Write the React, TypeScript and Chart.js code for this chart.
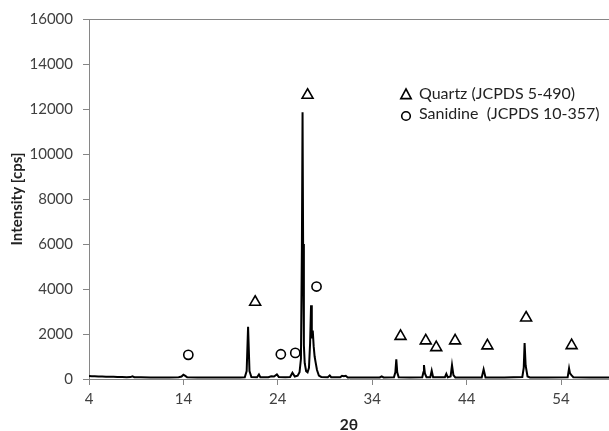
import React, { useEffect, useRef } from "react";
import { Chart, registerables } from "chart.js";

Chart.register(...registerables);

// ---- data ----
const twoTheta = [
  4.0, 4.3, 4.6, 5.0, 5.4, 5.8, 6.2, 6.6, 7.0, 7.5, 8.0, 8.4, 8.6, 8.8, 9.5, 10.5, 11.5, 12.5, 13.5, 13.8,
  14.0, 14.2, 14.4, 15.5, 17.0, 18.5, 20.0, 20.5, 20.7, 20.85, 21.0, 21.2, 21.8, 22.0, 22.15, 23.0, 23.3, 23.6,
  23.9, 24.1, 24.8, 25.3, 25.55, 25.8, 26.1, 26.3, 26.45, 26.55, 26.62, 26.68, 26.76, 26.85, 27.0, 27.15,
  27.3, 27.42, 27.52, 27.6, 27.7, 27.8, 27.9, 28.0, 28.15, 28.35, 28.6, 29.3, 29.5, 29.65, 30.6, 30.8, 31.0,
  31.2, 31.4, 33.0, 34.8, 35.0, 35.2, 36.3, 36.45, 36.55, 36.65, 36.8, 38.0, 39.3, 39.42, 39.48, 39.58, 39.75,
  40.15, 40.3, 40.45, 41.7, 41.85, 42.0, 42.3, 42.45, 42.6, 42.8, 44.0, 45.6, 45.8, 46.0, 48.0, 49.9, 50.05,
  50.14, 50.25, 50.45, 50.7, 52.5, 54.7, 54.85, 54.95, 55.1, 55.3, 57.0, 59.1,
];
const intensity = [
  130, 120, 125, 115, 110, 105, 100, 95, 90, 85, 80, 85, 120, 80, 75, 70, 70, 70, 75, 110,
  190, 140, 75, 65, 65, 65, 70, 80, 350, 2320, 350, 90, 80, 200, 80, 80, 120, 110,
  200, 90, 80, 90, 280, 110, 150, 300, 900, 5800, 11850, 6000, 1500, 700, 350, 300,
  500, 1600, 3280, 1800, 2150, 1450, 1000, 750, 400, 150, 90, 80, 160, 80, 80, 140, 120,
  140, 70, 65, 70, 120, 70, 80, 300, 880, 300, 80, 70, 80, 300, 620, 250, 80,
  75, 370, 75, 80, 230, 75, 110, 620, 170, 70, 70, 70, 430, 70, 65, 90, 500,
  1600, 600, 110, 70, 65, 75, 470, 250, 170, 80, 65, 65,
];

const quartzX = [21.6, 27.15, 37.0, 39.67, 40.78, 42.78, 46.2, 50.3, 55.12];
const quartzY = [3420, 12620, 1900, 1700, 1400, 1700, 1480, 2720, 1490];
const sanidineX = [14.52, 24.32, 25.85, 28.1];
const sanidineY = [1075, 1100, 1160, 4110];

const xTicks = [4, 14, 24, 34, 44, 54];
const xMin = 4;
const xMax = 59.08;
const yMin = 0;
const yMax = 16000;
const yStep = 2000;

const legendLabels = ["Quartz (JCPDS 5-490)", "Sanidine  (JCPDS 10-357)"];

const AXIS_COLOR = "#868686";
const TEXT_COLOR = "#404040";

export default function App() {
  const ref = useRef<HTMLCanvasElement | null>(null);

  useEffect(() => {
    if (!ref.current) return;

    const frameAndLegend = {
      id: "frameAndLegend",
      afterDraw(chart: any) {
        const { ctx, chartArea } = chart;
        ctx.save();
        // top border of plot area
        ctx.strokeStyle = AXIS_COLOR;
        ctx.lineWidth = 1;
        ctx.beginPath();
        ctx.moveTo(chartArea.left - 6, chartArea.top + 0.5);
        ctx.lineTo(chartArea.right, chartArea.top + 0.5);
        ctx.stroke();

        // legend inside plot area
        const lx = chartArea.left + 317;
        const ly = chartArea.top + 76;
        ctx.strokeStyle = "#000";
        ctx.fillStyle = "#fff";
        ctx.lineWidth = 1.6;
        // triangle
        const r = 6;
        ctx.beginPath();
        ctx.moveTo(lx, ly - r);
        ctx.lineTo(lx + r * 0.866, ly + r * 0.6);
        ctx.lineTo(lx - r * 0.866, ly + r * 0.6);
        ctx.closePath();
        ctx.fill();
        ctx.stroke();
        // circle
        ctx.beginPath();
        ctx.arc(lx, ly + 21, 4.3, 0, Math.PI * 2);
        ctx.fill();
        ctx.stroke();

        ctx.fillStyle = "#222";
        ctx.font = "16px Lato";
        ctx.textBaseline = "middle";
        ctx.textAlign = "left";
        ctx.fillText(legendLabels[0], lx + 13, ly - 1);
        ctx.fillText(legendLabels[1], lx + 13, ly + 19);
        ctx.restore();
      },
    };

    const chart = new Chart(ref.current, {
      type: "line",
      data: {
        datasets: [
          {
            label: "XRD",
            data: twoTheta.map((x, i) => ({ x, y: intensity[i] })),
            borderColor: "#000",
            borderWidth: 2,
            pointRadius: 0,
            tension: 0,
            fill: false,
            order: 2,
          },
          {
            label: "Quartz",
            data: quartzX.map((x, i) => ({ x, y: quartzY[i] })),
            showLine: false,
            pointStyle: "triangle",
            pointRadius: 6.3,
            pointBorderWidth: 1.6,
            pointBorderColor: "#000",
            pointBackgroundColor: "#fff",
            borderColor: "#000",
            backgroundColor: "#fff",
            order: 1,
          },
          {
            label: "Sanidine",
            data: sanidineX.map((x, i) => ({ x, y: sanidineY[i] })),
            showLine: false,
            pointStyle: "circle",
            pointRadius: 4.6,
            pointBorderWidth: 1.6,
            pointBorderColor: "#000",
            pointBackgroundColor: "#fff",
            borderColor: "#000",
            backgroundColor: "#fff",
            order: 1,
          },
        ],
      },
      options: {
        animation: false,
        responsive: false,
        maintainAspectRatio: false,
        devicePixelRatio: 1,
        layout: { autoPadding: false, padding: { left: 0, right: 0, top: 17, bottom: 0 } },
        plugins: {
          legend: { display: false },
          tooltip: { enabled: false },
        },
        scales: {
          x: {
            type: "linear",
            min: xMin,
            max: xMax,
            afterBuildTicks: (scale: any) => {
              scale.ticks = xTicks.map((v) => ({ value: v }));
            },
            afterFit: (scale: any) => {
              scale.height = 52;
              scale.paddingRight = 0;
              scale.paddingLeft = 0;
            },
            border: { display: true, color: AXIS_COLOR, width: 1 },
            grid: {
              display: true,
              drawOnChartArea: false,
              drawTicks: true,
              tickLength: 6,
              color: AXIS_COLOR,
            },
            ticks: {
              color: TEXT_COLOR,
              font: { family: "Lato", size: 15 },
              padding: 5,
              maxRotation: 0,
              autoSkip: false,
              callback: (v: any) => String(v),
            },
            title: {
              display: true,
              text: "2θ",
              color: "#222",
              font: { family: "Lato", size: 15.5, weight: "bold", lineHeight: 0.8 },
              padding: { top: 0, bottom: 0 },
            },
          },
          y: {
            type: "linear",
            min: yMin,
            max: yMax,
            afterFit: (scale: any) => {
              scale.width = 89;
            },
            border: { display: true, color: AXIS_COLOR, width: 1 },
            grid: {
              display: true,
              drawOnChartArea: false,
              drawTicks: true,
              tickLength: 6,
              color: AXIS_COLOR,
            },
            ticks: {
              stepSize: yStep,
              color: TEXT_COLOR,
              font: { family: "Lato", size: 15 },
              padding: 10,
              callback: (v: any) => String(v),
            },
            title: {
              display: true,
              text: "Intensity [cps]",
              color: "#222",
              font: { family: "Lato", size: 15, weight: "bold", lineHeight: 1.2 },
              padding: { top: 8, bottom: 0 },
            },
          },
        },
      },
      plugins: [frameAndLegend],
    } as any);

    return () => chart.destroy();
  }, []);

  return (
    <div style={{ position: "fixed", left: 0, top: 0, width: 609, height: 431, background: "#fff" }}>
      <canvas ref={ref} width={609} height={431} style={{ width: 609, height: 431, display: "block" }} />
    </div>
  );
}
